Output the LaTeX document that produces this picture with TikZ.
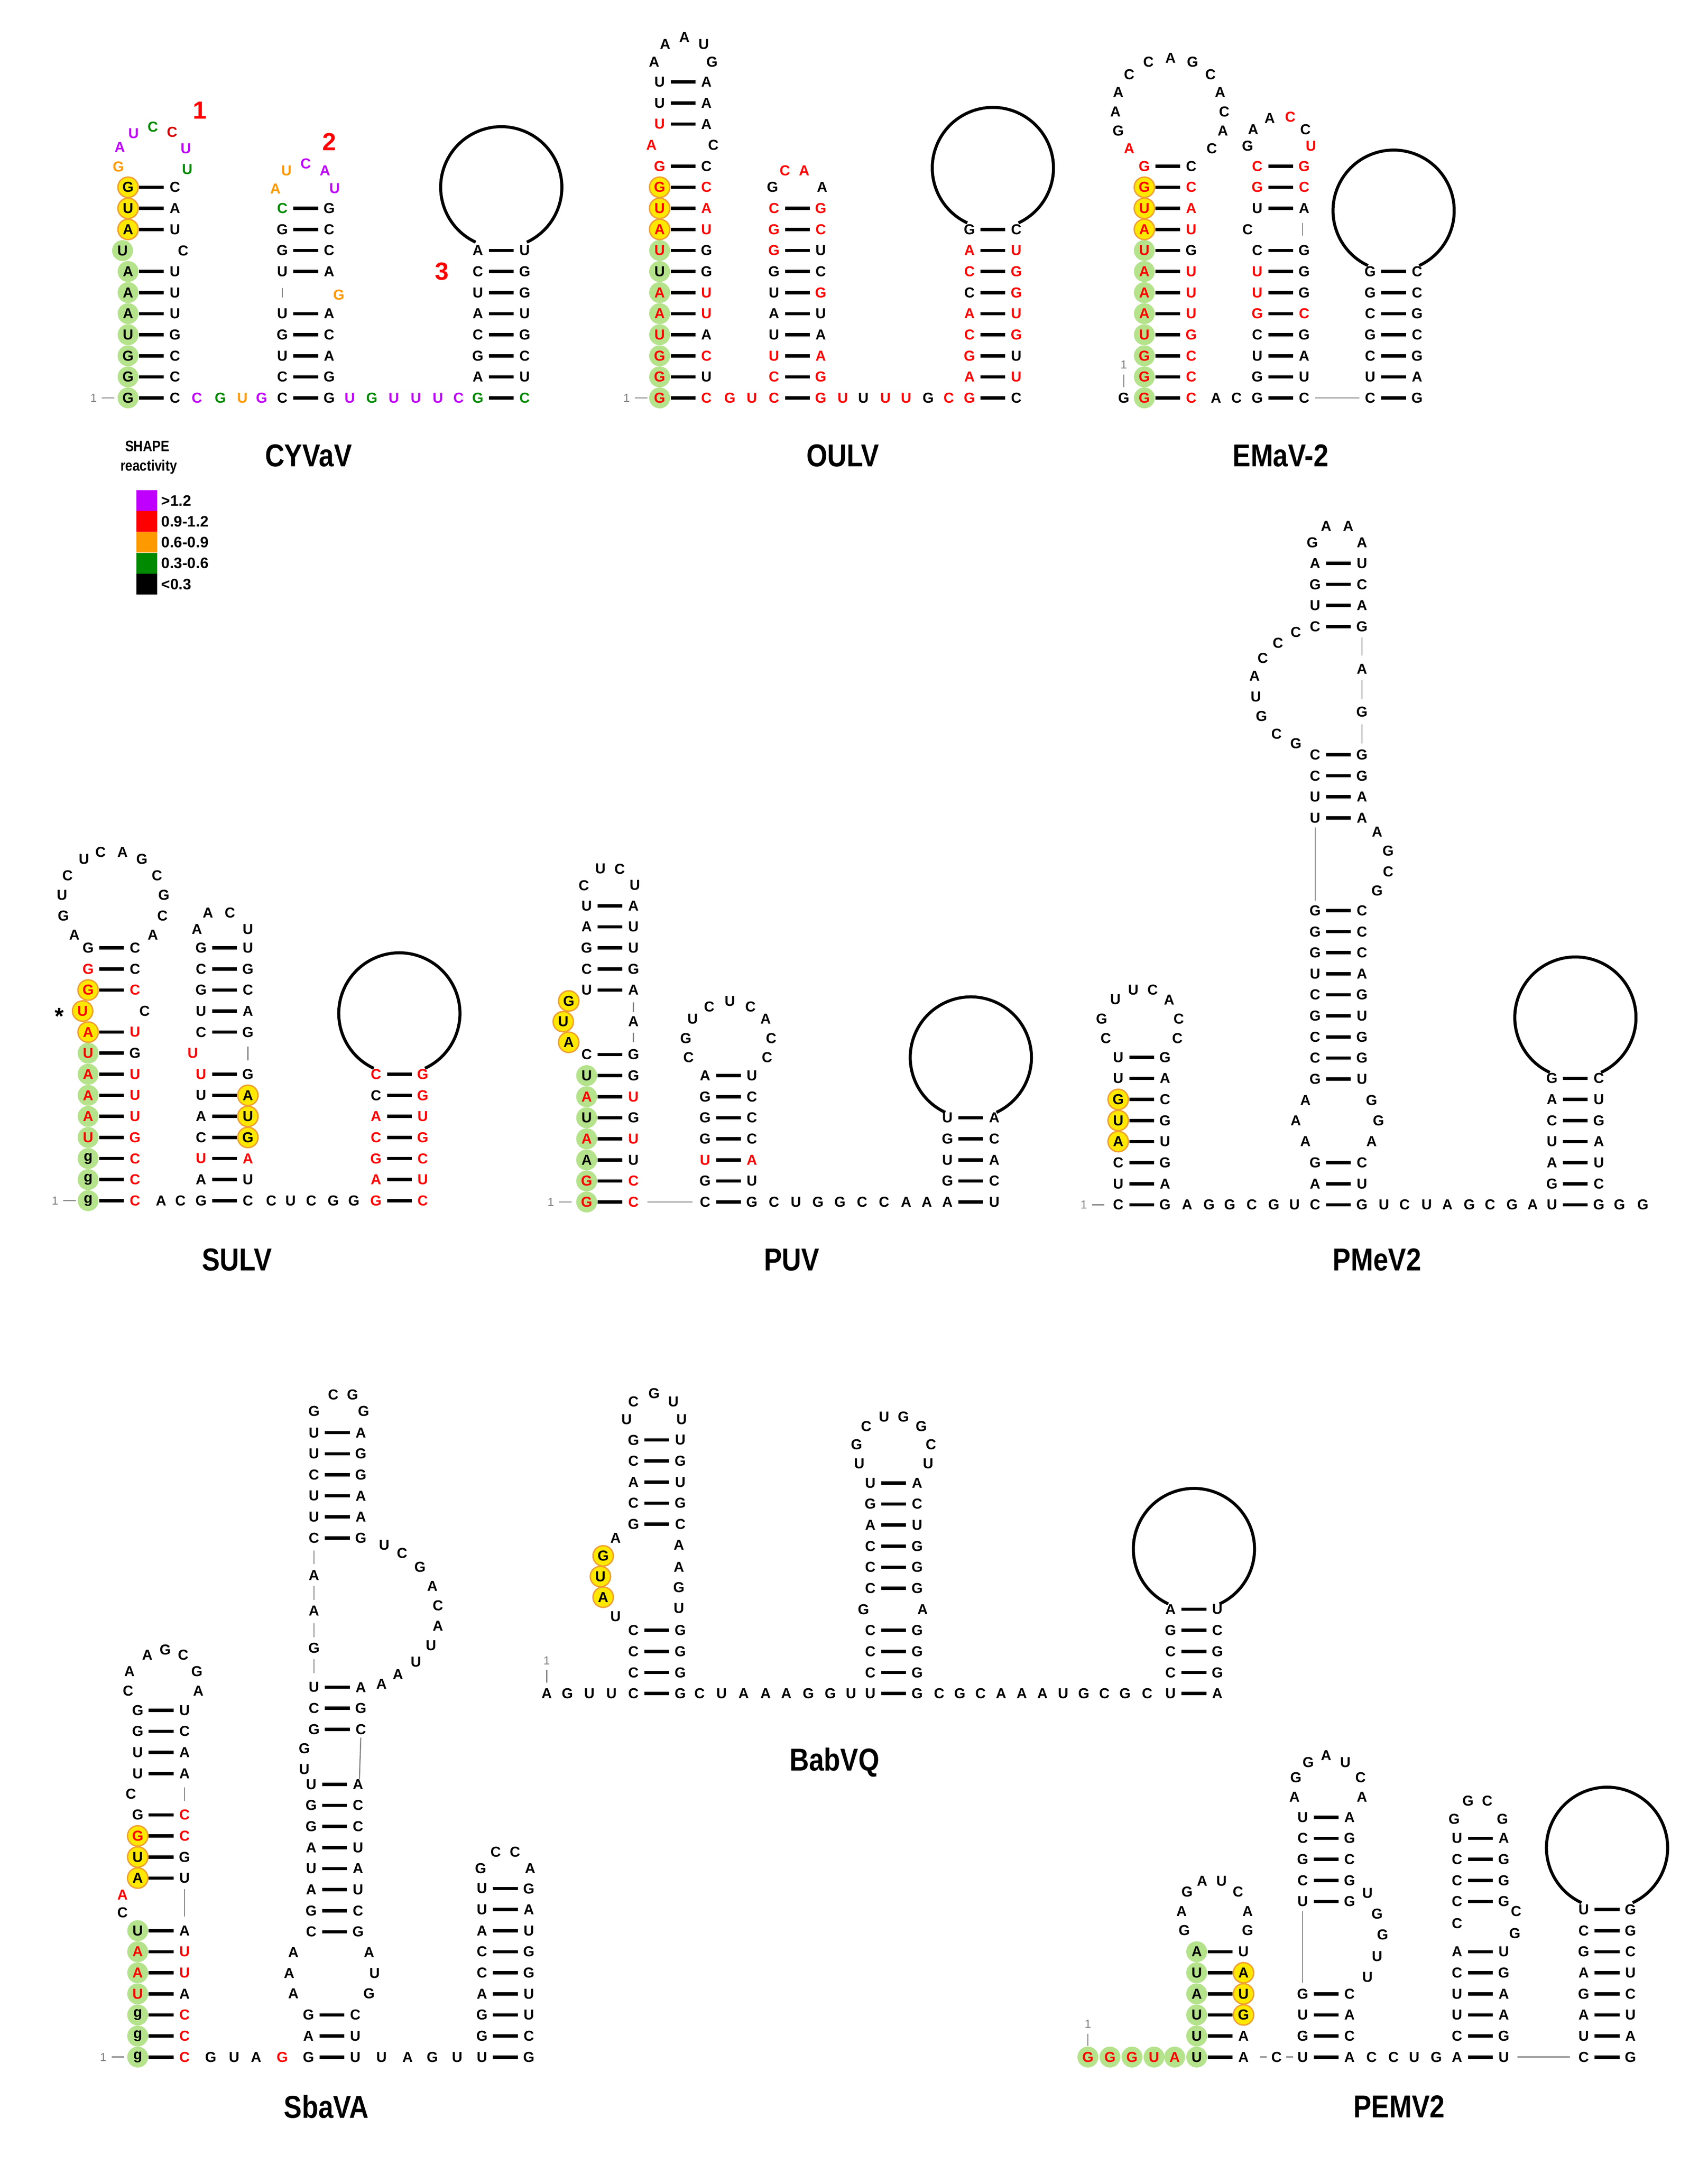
\documentclass[tikz,border=0pt]{standalone}
\usepackage{fontspec}
\setmainfont{Liberation Sans}
\usepackage{xcolor}
\definecolor{pu}{HTML}{C000FF}
\definecolor{og}{HTML}{FF9900}
\definecolor{gn}{HTML}{008A00}
\definecolor{lg}{HTML}{B5E38C}
\definecolor{yl}{HTML}{FFE800}
\definecolor{yb}{HTML}{F0A030}
\newcommand\rd[1]{\textcolor{red}{#1}}
\newcommand\pu[1]{\textcolor{pu}{#1}}
\newcommand\og[1]{\textcolor{og}{#1}}
\newcommand\gn[1]{\textcolor{gn}{#1}}
\tikzset{
 nt/.style={font=\bfseries\fontsize{10.5}{11}\selectfont,inner sep=0pt},
 bond/.style={line width=2.4pt},
 gtick/.style={gray,line width=0.8pt},
 loopc/.style={line width=2.2pt},
 gfill/.style={fill=lg},
 yfill/.style={fill=yl,draw=yb,line width=1pt},
 ttl/.style={font=\bfseries\fontsize{23}{26}\selectfont,inner sep=0pt},
 numl/.style={font=\bfseries\fontsize{18}{20}\selectfont,text=red,inner sep=0pt},
 onel/.style={font=\fontsize{8.5}{9}\selectfont,text=gray,inner sep=0pt}
}
\newcommand\nt[3]{\node[nt] at (#1,#2) {#3};}
\newcommand\bp[4]{\node[nt] at (#1,#2) {#3}; \draw[bond] (#1+8,#2)--(#1+26,#2); \node[nt] at (#1+34,#2) {#4};}
\newcommand\stem[3]{\foreach \a/\b [count=\i from 0] in {#3} {\bp{#1}{#2-15.3*\i}{\a}{\b}}}
\newcommand\gcs[3]{\foreach \i in {1,...,#3} {\fill[gfill] (#1,#2+15.3-15.3*\i) circle (7.6);}}
\newcommand\gc[2]{\fill[gfill] (#1,#2) circle (7.6);}
\newcommand\yc[2]{\filldraw[yfill] (#1,#2) circle (7.4);}
\newcommand\row[2]{\foreach \x/\l in {#2} {\nt{\x}{#1}{\l}}}
\newcommand\one[2]{\node[onel] at (#1,#2) {1}; \draw[gtick] (#1+6,#2)--(#1+15,#2);}
\newcommand\onev[2]{\node[onel] at (#1,#2-24) {1}; \draw[gtick] (#1,#2-17)--(#1,#2-8);}
\newcommand\vt[3]{\draw[gtick] (#1,#2)--(#1,#3);}
\newcommand\bigloop[2]{\draw[loopc] (#1,#2) ++(115:44) arc[start angle=115,end angle=425,radius=44];}
\begin{document}
\begin{tikzpicture}[x=1pt,y=-1pt]
\useasboundingbox[fill=white] (0,0) rectangle (1240,1572.4);
% ================= CYVaV
\gcs{93}{289}{7}\gc{89}{182}
\yc{93}{166.6}\yc{93}{151.3}\yc{93}{136}
\stem{93}{289}{G/C,G/C,G/C,U/G,A/U,A/U,A/U}
\nt{89}{182}{U}\nt{133}{182}{C}
\stem{93}{166.6}{A/U,U/A,G/C}
\nt{86}{121}{\og{G}}\nt{87}{107}{\pu{A}}\nt{97}{97}{\pu{U}}\nt{111}{92}{\gn{C}}\nt{125}{96}{\textcolor{red!85!black}{C}}\nt{135}{108}{\pu{U}}\nt{136}{123}{\gn{U}}
\node[numl] at (145,80) {1};
\one{68}{289}
\row{289}{143/\pu{C},160/\gn{G},176/\og{U},190/\pu{G},254/\pu{U},270/\gn{G},286/\pu{U},302/\pu{U},318/\pu{U},333/\pu{C}}
\stem{205}{289}{C/G,C/G,U/A,G/C,U/A}
\vt{205}{209}{216}\nt{246}{214}{\og{G}}
\stem{205}{197.2}{U/A,G/C,G/C,\gn{C}/G}
\nt{200}{137}{\og{A}}\nt{208}{124}{\og{U}}\nt{222}{119}{\pu{C}}\nt{236}{124}{\pu{A}}\nt{243}{137}{\pu{U}}
\node[numl] at (239,103) {2};
\stem{347}{289}{\gn{G}/\gn{C},A/U,G/C,C/G,A/U,U/G,C/G,A/U}
\bigloop{364}{136}
\node[numl] at (321,197) {3};
\node[ttl] at (224,331) {\scalebox{0.85}[1]{CYVaV}};
% legend
\node[font=\bfseries\fontsize{11}{12}\selectfont,inner sep=0pt] at (107,324) {\scalebox{0.85}[1]{SHAPE}};
\node[font=\bfseries\fontsize{11}{12}\selectfont,inner sep=0pt] at (108,339) {\scalebox{0.85}[1]{reactivity}};
\foreach \c/\t [count=\i from 0] in {pu/>1.2,red/0.9-1.2,og/0.6-0.9,gn/0.3-0.6,black/<0.3}{
 \fill[\c] (99,356+15.2*\i) rectangle (114,371+15.2*\i);
 \node[anchor=west,font=\bfseries\fontsize{11}{12}\selectfont,inner sep=0pt] at (117,363.5+15.2*\i) {\t};}
% ================= OULV
\gcs{479}{289}{8}
\yc{479}{166.6}\yc{479}{151.3}\yc{479}{136}
\stem{479}{289}{\rd{G}/\rd{C},\rd{G}/U,\rd{G}/\rd{C},\rd{U}/A,\rd{A}/\rd{U},\rd{A}/\rd{U},U/G,\rd{U}/G,\rd{A}/\rd{U},\rd{U}/\rd{A},\rd{G}/\rd{C},\rd{G}/C}
\nt{473}{105.4}{\rd{A}}\nt{518}{105.4}{C}
\stem{479}{90.1}{\rd{U}/A,U/A,U/A}
\nt{475}{45}{A}\nt{483}{32}{A}\nt{497}{27}{A}\nt{511}{32}{U}\nt{517}{45}{G}
\one{455}{289}
\row{289}{530/\rd{G},546/\rd{U},612/\rd{U},627/U,643/\rd{U},658/\rd{U},674/G,689/\rd{C}}
\stem{562}{289}{\rd{C}/\rd{G},\rd{C}/\rd{G},\rd{U}/\rd{A},U/A,A/U,U/\rd{G},G/C,\rd{G}/U,\rd{G}/\rd{C},\rd{C}/\rd{G}}
\nt{561}{136}{G}\nt{570}{124}{\rd{C}}\nt{584}{124}{\rd{A}}\nt{597}{136}{A}
\stem{704}{289}{\rd{G}/C,\rd{A}/\rd{U},\rd{G}/U,\rd{C}/\rd{G},\rd{A}/\rd{U},C/\rd{G},\rd{C}/\rd{G},\rd{A}/\rd{U},G/C}
\bigloop{721}{122}
\node[ttl] at (612,331) {\scalebox{0.85}[1]{OULV}};
% ================= EMaV-2
\gcs{831}{289}{8}
\yc{831}{166.6}\yc{831}{151.3}\yc{831}{136}
\stem{831}{289}{\rd{G}/\rd{C},\rd{G}/\rd{C},\rd{G}/\rd{C},\rd{U}/\rd{G},\rd{A}/\rd{U},\rd{A}/\rd{U},\rd{A}/\rd{U},\rd{U}/G,\rd{A}/\rd{U},\rd{U}/\rd{A},\rd{G}/\rd{C},\rd{G}/C}
\nt{820}{108}{\rd{A}}\nt{812}{95}{G}\nt{810}{81}{A}\nt{812}{67}{A}\nt{820}{54}{C}\nt{834}{45}{C}\nt{850}{42}{A}\nt{866}{45}{G}\nt{879}{54}{C}\nt{886}{67}{A}\nt{889}{81}{C}\nt{888}{95}{A}\nt{880}{108}{C}
\onev{816}{289}\nt{816}{289}{G}
\row{289}{883/A,898/C}
\draw[gtick] (955,289)--(987,289);
\stem{913}{289}{G/C,G/U,U/A,C/G,\rd{G}/\rd{C},\rd{U}/G,\rd{U}/G,C/G}
\nt{906}{166.6}{C}\vt{946}{162}{171}
\stem{913}{151.3}{U/A,\rd{G}/\rd{C},\rd{C}/\rd{G}}
\nt{906}{106}{G}\nt{910}{94}{A}\nt{922}{86}{A}\nt{937}{85}{\rd{C}}\nt{948}{94}{C}\nt{952}{106}{\rd{U}}
\stem{995}{289}{C/G,U/A,C/G,G/C,C/G,G/C,G/C}
\bigloop{1012}{153}
\node[ttl] at (930,331) {\scalebox{0.85}[1]{EMaV-2}};
% ================= SULV
\gcs{64}{872}{8}
\yc{64}{749.6}\yc{60}{734.3}\yc{64}{719}
\stem{64}{872}{g/\rd{C},g/\rd{C},g/\rd{C},\rd{U}/\rd{G},\rd{A}/\rd{U},\rd{A}/\rd{U},\rd{A}/\rd{U},\rd{U}/G,\rd{A}/\rd{U}}
\nt{60}{734.3}{\rd{U}}\nt{105}{734.3}{C}
\node[font=\bfseries\fontsize{17}{17}\selectfont,inner sep=0pt] at (43,738) {*};
\stem{64}{719}{\rd{G}/\rd{C},\rd{G}/C,G/C}
\nt{54}{679}{A}\nt{46}{665}{G}\nt{45}{650}{U}\nt{49}{636}{C}\nt{61}{624}{U}\nt{73}{619}{C}\nt{89}{619}{A}\nt{103}{624}{G}\nt{114}{636}{C}\nt{119}{650}{G}\nt{118}{665}{C}\nt{111}{679}{A}
\one{40}{872}
\row{872}{117/A,131/C,197/C,211/U,226/C,242/G,257/G}
\yc{180}{826.1}\yc{180}{810.8}\yc{180}{795.5}
\stem{146}{872}{G/C,A/U,\rd{U}/\rd{A},C/G,A/U,U/A,\rd{U}/G}
\nt{140}{764.9}{\rd{U}}\vt{180}{760}{770}
\stem{146}{749.6}{C/G,U/A,G/C,C/G,G/U}
\nt{143}{675}{A}\nt{151}{663}{A}\nt{167}{663}{C}\nt{180}{675}{U}
\stem{273}{872}{\rd{G}/\rd{C},\rd{A}/\rd{U},\rd{G}/\rd{C},\rd{C}/\rd{G},\rd{A}/\rd{U},C/\rd{G},\rd{C}/\rd{G}}
\bigloop{290}{736}
\node[ttl] at (172,915) {\scalebox{0.85}[1]{SULV}};
% ================= PUV
\gcs{426}{873}{7}
\yc{413}{727}\yc{409}{742}\yc{413}{757}
\nt{413}{727}{G}\nt{409}{742}{U}\nt{413}{757}{A}
\stem{426}{873}{\rd{G}/\rd{C},\rd{G}/\rd{C},A/U,\rd{A}/\rd{U},U/G,\rd{A}/\rd{U},U/G,C/G}
\vt{460}{728}{735}\nt{460}{742}{A}\vt{460}{750}{757}
\stem{426}{719}{U/A,C/G,G/U,A/U,U/A}
\nt{424}{643}{C}\nt{436}{631}{U}\nt{450}{631}{C}\nt{461}{643}{U}
\one{400}{873}
\draw[gtick] (470,873)--(503,873);
\row{873}{562/C,578/U,594/G,610/G,626/C,642/C,658/A,673/A}
\stem{512}{873}{C/G,G/U,\rd{U}/\rd{A},G/C,G/C,G/C,A/U}
\nt{500}{768}{C}\nt{498}{754}{G}\nt{503}{740}{U}\nt{515}{731}{C}\nt{530}{727}{U}\nt{545}{731}{C}\nt{556}{740}{A}\nt{560}{754}{C}\nt{557}{768}{C}
\stem{688}{873}{A/U,G/C,U/A,G/C,U/A}
\bigloop{705}{768}
\node[ttl] at (575,915) {\scalebox{0.85}[1]{PUV}};
% ================= PMeV2
\yc{812}{829.1}\yc{812}{813.8}\yc{812}{798.5}
\stem{812}{875}{C/G,U/A,C/G,A/U,U/G,G/C,U/A,U/G}
\nt{803}{754}{C}\nt{800}{740}{G}\nt{810}{726}{U}\nt{823}{719}{U}\nt{837}{719}{C}\nt{849}{726}{A}\nt{856}{740}{C}\nt{855}{754}{C}
\one{787}{875}
\row{875}{862/A,878/G,893/G,909/C,925/G,940/U,1005/U,1020/C,1036/U,1051/A,1067/G,1082/C,1098/G,1113/A,1176/G,1193/G}
\stem{955}{875}{C/G,A/U,G/C}
\nt{948}{829}{A}\nt{941}{814}{A}\nt{948}{799}{A}\nt{996}{829}{A}\nt{1001}{814}{G}\nt{996}{799}{G}
\stem{955}{783.7}{G/U,C/G,C/G,G/U,C/G,U/A,G/C,G/C,G/C}
\vt{955}{601}{654}
\nt{1000}{604}{A}\nt{1008}{618}{G}\nt{1008}{633}{C}\nt{1000}{647}{G}
\stem{955}{594}{U/A,U/A,C/G,C/G}
\nt{941}{540}{G}\nt{927}{533}{C}\nt{916}{520}{G}\nt{912}{506}{U}\nt{911}{491}{A}\nt{917}{478}{C}\nt{928}{467}{C}\nt{941}{459}{C}
\vt{989}{526}{540}\nt{989}{517}{G}\vt{989}{494}{508}\nt{989}{486}{A}\vt{989}{463}{476}
\stem{955}{455}{C/G,U/A,G/C,A/U}
\nt{953}{394}{G}\nt{963}{382}{A}\nt{979}{382}{A}\nt{989}{394}{A}
\stem{1127}{875}{U/G,G/C,A/U,U/A,C/G,A/U,G/C}
\bigloop{1144}{739}
\node[ttl] at (1000,915) {\scalebox{0.85}[1]{PMeV2}};
% ================= SbaVA
\gcs{100}{1494}{7}
\stem{100}{1494}{g/\rd{C},g/\rd{C},g/\rd{C},\rd{U}/A,\rd{A}/\rd{U},\rd{A}/\rd{U},U/A}
\nt{89}{1389}{C}\nt{89}{1376}{\rd{A}}\vt{134}{1372}{1392}
\yc{100}{1364}\yc{100}{1348.7}\yc{100}{1333.4}
\stem{100}{1364}{A/U,U/G,\rd{G}/\rd{C},G/\rd{C}}
\nt{95}{1303}{C}\vt{134}{1298}{1308}
\stem{100}{1288}{U/A,U/A,G/C,G/U}
\nt{93}{1228}{C}\nt{94}{1214}{A}\nt{107}{1202}{A}\nt{120}{1198}{G}\nt{133}{1202}{C}\nt{143}{1214}{G}\nt{144}{1228}{A}
\one{75}{1494}
\row{1494}{153/G,170/U,186/A,205/\rd{G},277/U,296/A,314/G,332/U}
\stem{224}{1494}{G/U,A/U,G/C}
\nt{213}{1418}{A}\nt{210}{1433}{A}\nt{213}{1448}{A}\nt{268}{1418}{A}\nt{272}{1433}{U}\nt{268}{1448}{G}
\stem{226}{1403}{C/G,G/C,A/U,U/A,A/U,G/C,G/C,U/A}
\nt{221}{1270}{G}\nt{221}{1285}{U}\draw[gtick] (262,1262)--(261,1292);
\stem{228}{1256}{G/C,C/G,U/A}
\vt{228}{1205}{1215}\nt{228}{1197}{G}\vt{228}{1179}{1189}\nt{228}{1170}{A}\vt{228}{1152}{1162}\nt{228}{1144}{A}\vt{228}{1126}{1136}
\stem{228}{1117}{C/G,U/A,U/A,C/G,U/G,U/A}
\nt{228}{1025}{G}\nt{242}{1013}{C}\nt{256}{1013}{G}\nt{264}{1025}{G}
\nt{279}{1122}{U}\nt{292}{1128}{C}\nt{305}{1138}{G}\nt{314}{1152}{A}\nt{318}{1166}{C}\nt{318}{1181}{A}\nt{313}{1195}{U}\nt{302}{1207}{U}\nt{289}{1216}{A}\nt{277}{1223}{A}
\stem{350}{1494}{U/G,G/C,G/U,A/U,C/G,C/G,A/U,U/A,U/G}
\nt{349}{1357}{G}\nt{360}{1345}{C}\nt{374}{1345}{C}\nt{385}{1357}{A}
\node[ttl] at (237,1530) {\scalebox{0.85}[1]{SbaVA}};
% ================= BabVQ
\onev{397}{1230}
\row{1230}{397/A,412/G,428/U,444/U,508/C,524/U,540/A,556/A,571/A,587/G,603/G,618/U,682/C,697/G,712/C,727/A,742/A,757/A,772/U,787/G,802/C,817/G,833/C}
\stem{460}{1230}{C/G,C/G,C/G,C/G}
\nt{447}{1174}{U}\yc{438}{1160}\yc{436}{1145}\yc{438}{1130}
\nt{438}{1160}{A}\nt{436}{1145}{U}\nt{438}{1130}{G}\nt{447}{1117}{A}
\nt{493}{1168}{U}\nt{493}{1153}{G}\nt{493}{1138}{A}\nt{493}{1122}{A}
\stem{460}{1107}{G/C,C/G,A/U,C/G,G/U}
\nt{455}{1031}{U}\nt{460}{1018}{C}\nt{475}{1012}{G}\nt{489}{1018}{U}\nt{495}{1031}{U}
\stem{632}{1230}{U/G,C/G,C/G,C/G}
\nt{627}{1169}{G}\nt{670}{1169}{A}
\stem{632}{1153.5}{C/G,C/G,C/G,A/U,G/C,U/A}
\nt{624}{1063}{U}\nt{622}{1049}{G}\nt{629}{1036}{C}\nt{642}{1029}{U}\nt{656}{1029}{G}\nt{669}{1036}{G}\nt{676}{1049}{C}\nt{674}{1063}{U}
\stem{850}{1230}{U/A,C/G,C/G,G/C,A/U}
\bigloop{867}{1125}
\node[ttl] at (606,1280) {\scalebox{0.85}[1]{BabVQ}};
% ================= PEMV2
\foreach \x in {790,806,822,838,853} {\gc{\x}{1494}}
\gcs{869}{1494}{6}
\yc{903}{1463.4}\yc{903}{1448.1}\yc{903}{1432.8}
\onev{790}{1494}
\row{1494}{790/\rd{G},806/\rd{G},822/\rd{G},838/\rd{U},853/\rd{A},927/C,996/C,1012/C,1027/U,1043/G}
\draw[gtick] (915,1494)--(920,1494);\draw[gtick] (934,1494)--(939,1494);
\stem{869}{1494}{U/A,U/A,U/G,A/U,U/A,A/U}
\nt{860}{1402}{G}\nt{858}{1388}{A}\nt{862}{1374}{G}\nt{873}{1366}{A}\nt{887}{1366}{U}\nt{899}{1374}{C}\nt{906}{1388}{A}\nt{906}{1402}{G}
\stem{946}{1494}{U/A,G/C,U/A,G/C}
\vt{946}{1388}{1440}
\nt{993}{1436}{U}\nt{1000}{1421}{U}\nt{1004}{1405}{G}\nt{1000}{1390}{G}\nt{993}{1375}{U}
\stem{946}{1381}{U/G,C/G,G/C,C/G,U/A}
\nt{940}{1305}{A}\nt{941}{1291}{G}\nt{950}{1280}{G}\nt{963}{1275}{A}\nt{977}{1280}{U}\nt{988}{1291}{C}\nt{989}{1305}{A}
\draw[gtick] (1102,1494)--(1140,1494);
\stem{1058}{1494}{A/U,C/G,U/A,U/A,C/G,A/U}
\nt{1058}{1397}{C}\nt{1101}{1388}{C}\nt{1100}{1404}{G}
\stem{1058}{1381}{C/G,C/G,C/G,U/A}
\nt{1056}{1321}{G}\nt{1066}{1308}{G}\nt{1080}{1308}{C}\nt{1091}{1321}{G}
\stem{1150}{1494}{C/G,U/A,A/U,G/C,A/U,G/C,C/G,U/G}
\bigloop{1167}{1342}
\node[ttl] at (1016,1530) {\scalebox{0.85}[1]{PEMV2}};
\end{tikzpicture}
\end{document}
